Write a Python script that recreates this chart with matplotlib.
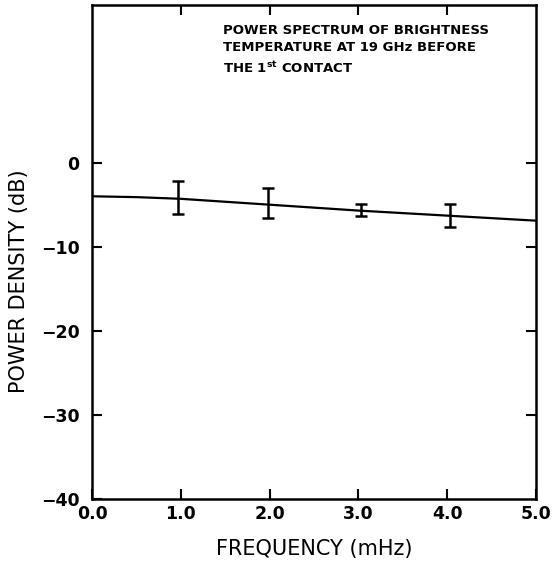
import matplotlib
matplotlib.use("Agg")
import matplotlib.pyplot as plt
import numpy as np

# smooth spectrum curve
freq = [0.0, 0.5, 1.0, 1.5, 2.0, 2.5, 3.0, 3.5, 4.0, 4.5, 5.0]
power = [-4.0, -4.1, -4.3, -4.65, -5.0, -5.35, -5.7, -6.0, -6.3, -6.6, -6.9]

# error bars (top and bottom ends)
bar_freq = [0.97, 1.98, 3.03, 4.03]
bar_top = [-2.2, -3.0, -4.9, -4.9]
bar_bottom = [-6.1, -6.6, -6.3, -7.6]

xticks = [0.0, 1.0, 2.0, 3.0, 4.0, 5.0]
xticklabels = ["0.0", "1.0", "2.0", "3.0", "4.0", "5.0"]
yticks = [0, -10, -20, -30, -40]
yticklabels = ["0", "\u221210", "\u221220", "\u221230", "\u221240"]

plt.rcParams['font.family'] = ['DejaVu Sans']

fig = plt.figure(figsize=(5.53, 5.68), dpi=100)
ax = fig.add_axes([0.1664, 0.1215, 0.8029, 0.8697])

ax.plot(freq, power, color='black', lw=1.6)

top = np.array(bar_top)
bot = np.array(bar_bottom)
mid = (top + bot) / 2
half = (top - bot) / 2
ax.errorbar(bar_freq, mid, yerr=half, fmt='none', ecolor='black',
            elinewidth=1.8, capsize=4, capthick=1.8)

ax.set_xlim(0, 5)
ax.set_ylim(-40, 18.75)
ax.set_xticks(xticks)
ax.set_xticklabels(xticklabels)
ax.set_yticks(yticks)
ax.set_yticklabels(yticklabels)

ax.tick_params(direction='in', length=7, width=1.5, labelsize=12.5,
               top=True, right=True)
ax.tick_params(axis='y', pad=9)
ax.tick_params(axis='x', pad=4)
for lab in ax.get_xticklabels() + ax.get_yticklabels():
    lab.set_fontweight('bold')
# top ticks only at 1-4, right ticks only at 0..-30
for t in ax.xaxis.get_major_ticks():
    if t.get_loc() in (0.0, 5.0):
        t.tick2line.set_visible(False)
for t in ax.yaxis.get_major_ticks():
    if t.get_loc() == -40:
        t.tick2line.set_visible(False)

for s in ax.spines.values():
    s.set_linewidth(1.8)

ax.set_xlabel("FREQUENCY (mHz)", fontsize=15, labelpad=12)
ax.set_ylabel("POWER DENSITY (dB)", fontsize=15)
ax.yaxis.set_label_coords(-0.142, 0.44)

ax.text(0.296, 0.962, "POWER SPECTRUM OF BRIGHTNESS\n"
        "TEMPERATURE AT 19 GHz BEFORE\n"
        r"THE 1$^{\mathbf{st}}$ CONTACT",
        transform=ax.transAxes, fontsize=9.5, fontweight='bold',
        va='top', ha='left', linespacing=1.45)

fig.savefig("out.png", dpi=100)
